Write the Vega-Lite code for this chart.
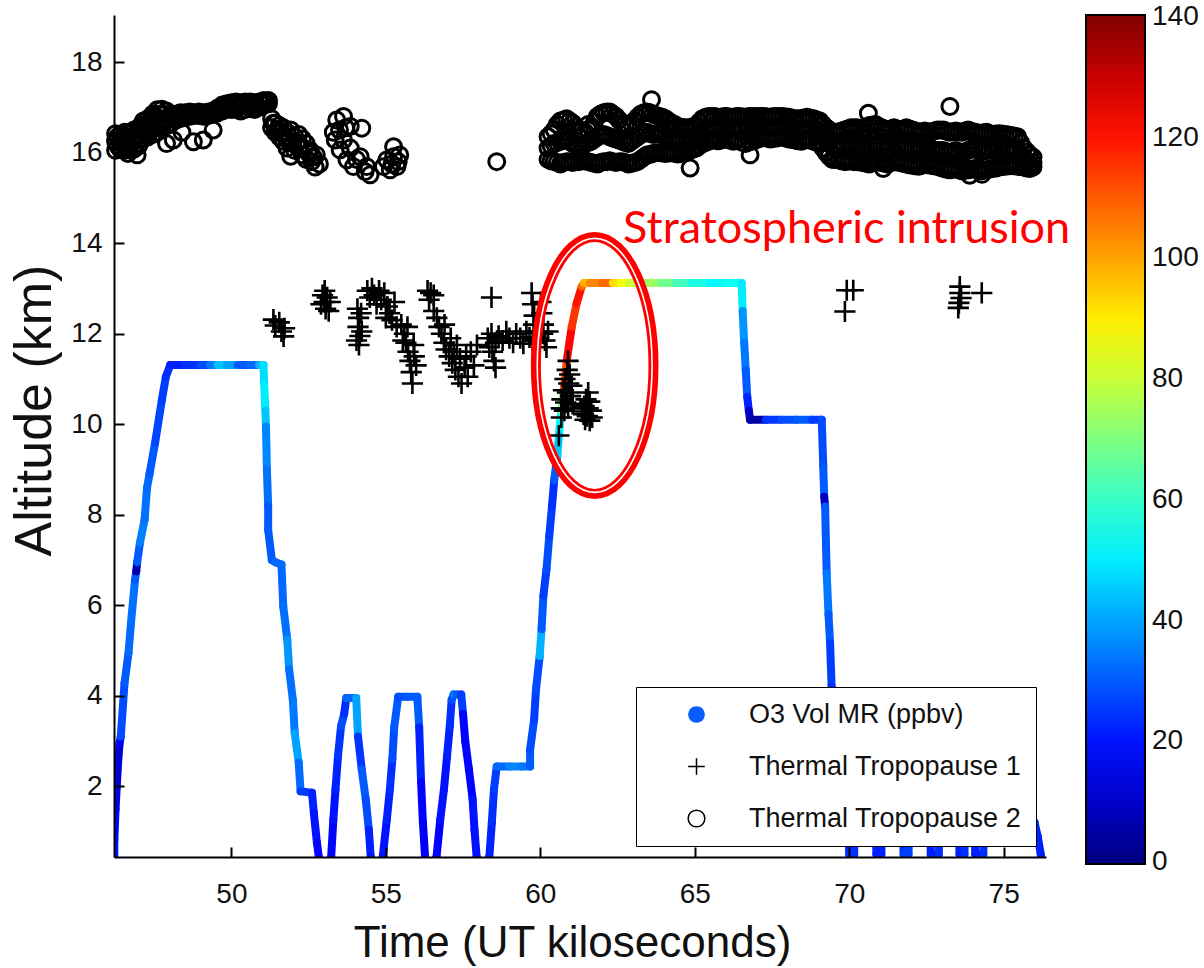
{
"$schema": "https://vega.github.io/schema/vega-lite/v6.json",
"width": 932, "height": 842,
"autosize": {"type": "none"},
"padding": {"left": 114, "top": 15, "right": 158, "bottom": 111},
"background": "white",
"config": {"view": {"stroke": null}, "axis": {"grid": false}},
"datasets": {
"o3": [
{"t":46.21,"a":0.2,"o":20},{"t":46.21,"a":0.82,"o":18},{"t":46.25,"a":1.5,"o":14},{"t":46.29,"a":2.0,"o":12},{"t":46.33,"a":2.5,"o":12},{"t":46.38,"a":2.95,"o":16},{"t":46.42,"a":3.1,"o":28},{"t":46.54,"a":4.28,"o":30},{"t":46.67,"a":4.95,"o":32},{"t":46.75,"a":5.61,"o":33},{"t":46.88,"a":6.56,"o":30},{"t":46.92,"a":6.75,"o":6},{"t":46.95,"a":6.95,"o":30},{"t":47.04,"a":7.38,"o":35},{"t":47.19,"a":7.89,"o":33},{"t":47.27,"a":8.6,"o":32},{"t":47.35,"a":8.9,"o":30},{"t":47.53,"a":9.59,"o":27},{"t":47.75,"a":10.54,"o":26},{"t":47.88,"a":11.05,"o":24},{"t":48.02,"a":11.31,"o":22},{"t":48.5,"a":11.31,"o":24},{"t":49.0,"a":11.31,"o":28},{"t":49.3,"a":11.31,"o":34},{"t":49.55,"a":11.31,"o":44},{"t":49.85,"a":11.31,"o":40},{"t":50.2,"a":11.31,"o":30},{"t":50.6,"a":11.31,"o":32},{"t":50.9,"a":11.31,"o":42},{"t":51.04,"a":11.31,"o":48},{"t":51.06,"a":10.9,"o":50},{"t":51.1,"a":10.3,"o":45},{"t":51.12,"a":9.95,"o":36},{"t":51.15,"a":9.0,"o":33},{"t":51.19,"a":8.2,"o":30},{"t":51.19,"a":7.67,"o":30},{"t":51.31,"a":7.0,"o":30},{"t":51.43,"a":6.95,"o":32},{"t":51.62,"a":6.9,"o":32},{"t":51.68,"a":5.97,"o":33},{"t":51.81,"a":5.24,"o":38},{"t":51.87,"a":4.58,"o":33},{"t":51.99,"a":3.91,"o":34},{"t":52.05,"a":3.18,"o":40},{"t":52.18,"a":2.52,"o":32},{"t":52.24,"a":1.89,"o":26},{"t":52.61,"a":1.86,"o":22},{"t":52.67,"a":1.41,"o":20},{"t":52.77,"a":0.75,"o":18},{"t":52.83,"a":0.44,"o":18},{"t":52.88,"a":0.2,"o":18},
{"t":53.18,"a":0.2,"o":18},{"t":53.23,"a":0.44,"o":18},{"t":53.30,"a":1.26,"o":20},{"t":53.37,"a":1.93,"o":22},{"t":53.45,"a":2.66,"o":25},{"t":53.55,"a":3.33,"o":28},{"t":53.65,"a":3.6,"o":24},{"t":53.72,"a":3.95,"o":32},{"t":54.04,"a":3.95,"o":40},{"t":54.10,"a":3.1,"o":25},{"t":54.22,"a":2.37,"o":30},{"t":54.35,"a":1.71,"o":28},{"t":54.45,"a":1.04,"o":22},{"t":54.51,"a":0.44,"o":20},{"t":54.55,"a":0.2,"o":20},
{"t":54.86,"a":0.2,"o":20},{"t":54.90,"a":0.44,"o":20},{"t":55.03,"a":1.26,"o":22},{"t":55.13,"a":1.93,"o":24},{"t":55.21,"a":2.6,"o":28},{"t":55.27,"a":3.3,"o":30},{"t":55.40,"a":3.98,"o":28},{"t":55.7,"a":3.98,"o":30},{"t":56.02,"a":3.98,"o":30},{"t":56.08,"a":3.3,"o":22},{"t":56.14,"a":2.1,"o":18},{"t":56.20,"a":1.2,"o":16},{"t":56.27,"a":0.44,"o":18},{"t":56.30,"a":0.2,"o":18},
{"t":56.60,"a":0.2,"o":18},{"t":56.64,"a":0.44,"o":18},{"t":56.76,"a":1.26,"o":20},{"t":56.88,"a":1.93,"o":20},{"t":56.98,"a":2.66,"o":22},{"t":57.07,"a":3.33,"o":24},{"t":57.13,"a":3.91,"o":28},{"t":57.19,"a":4.03,"o":34},{"t":57.30,"a":4.03,"o":30},{"t":57.44,"a":4.03,"o":26},{"t":57.50,"a":3.6,"o":18},{"t":57.57,"a":3.0,"o":18},{"t":57.69,"a":2.37,"o":18},{"t":57.81,"a":1.71,"o":20},{"t":57.87,"a":1.04,"o":20},{"t":57.94,"a":0.44,"o":20},{"t":57.97,"a":0.2,"o":20},
{"t":58.31,"a":0.2,"o":22},{"t":58.35,"a":0.44,"o":22},{"t":58.43,"a":1.19,"o":24},{"t":58.50,"a":1.93,"o":26},{"t":58.59,"a":2.44,"o":32},{"t":59.0,"a":2.44,"o":36},{"t":59.4,"a":2.44,"o":34},{"t":59.67,"a":2.44,"o":30},{"t":59.67,"a":2.81,"o":28},{"t":59.80,"a":3.48,"o":26},{"t":59.86,"a":4.14,"o":28},{"t":59.98,"a":4.88,"o":42},{"t":60.04,"a":5.47,"o":30},{"t":60.10,"a":6.21,"o":26},{"t":60.20,"a":6.79,"o":28},{"t":60.29,"a":7.53,"o":26},{"t":60.38,"a":8.20,"o":24},{"t":60.45,"a":8.77,"o":30},{"t":60.55,"a":9.3,"o":45},{"t":60.62,"a":9.9,"o":52},{"t":60.68,"a":10.3,"o":70},{"t":60.75,"a":10.7,"o":112},{"t":60.86,"a":11.42,"o":122},{"t":61.02,"a":12.16,"o":115},{"t":61.18,"a":12.68,"o":120},{"t":61.34,"a":13.04,"o":108},{"t":61.42,"a":13.12,"o":98},{"t":61.6,"a":13.12,"o":104},{"t":62.0,"a":13.12,"o":108},{"t":62.35,"a":13.12,"o":92},{"t":62.6,"a":13.12,"o":86},{"t":62.9,"a":13.12,"o":80},{"t":63.4,"a":13.12,"o":74},{"t":63.9,"a":13.12,"o":68},{"t":64.4,"a":13.12,"o":62},{"t":64.9,"a":13.12,"o":56},{"t":65.5,"a":13.12,"o":52},{"t":66.0,"a":13.12,"o":54},{"t":66.52,"a":13.12,"o":50},{"t":66.55,"a":12.5,"o":38},{"t":66.60,"a":11.8,"o":34},{"t":66.65,"a":11.2,"o":30},{"t":66.70,"a":10.6,"o":22},{"t":66.75,"a":10.3,"o":10},{"t":66.79,"a":10.1,"o":5},{"t":67.3,"a":10.1,"o":25},{"t":67.8,"a":10.1,"o":28},{"t":68.3,"a":10.1,"o":30},{"t":68.8,"a":10.1,"o":26},{"t":69.11,"a":10.1,"o":28},{"t":69.16,"a":9.07,"o":30},{"t":69.19,"a":8.4,"o":8},{"t":69.22,"a":8.18,"o":30},{"t":69.27,"a":6.71,"o":34},{"t":69.33,"a":5.8,"o":30},{"t":69.38,"a":5.17,"o":26},{"t":69.43,"a":4.21,"o":24},{"t":69.52,"a":2.5,"o":22},{"t":69.6,"a":1.2,"o":22},
{"t":69.98,"a":1.2,"o":22},{"t":70.0,"a":0.5,"o":24},{"t":70.16,"a":0.5,"o":24},{"t":70.18,"a":1.2,"o":22},
{"t":70.86,"a":1.2,"o":22},{"t":70.88,"a":0.5,"o":22},{"t":71.04,"a":0.5,"o":22},{"t":71.06,"a":1.2,"o":22},
{"t":71.74,"a":1.2,"o":24},{"t":71.76,"a":0.5,"o":26},{"t":71.92,"a":0.5,"o":26},{"t":71.94,"a":1.2,"o":24},
{"t":72.62,"a":1.2,"o":22},{"t":72.64,"a":0.5,"o":22},{"t":72.90,"a":0.5,"o":24},{"t":72.92,"a":1.2,"o":22},
{"t":73.55,"a":1.2,"o":22},{"t":73.57,"a":0.5,"o":22},{"t":73.73,"a":0.5,"o":24},{"t":73.75,"a":1.2,"o":22},
{"t":74.06,"a":1.2,"o":22},{"t":74.08,"a":0.5,"o":22},{"t":74.34,"a":0.5,"o":24},{"t":74.36,"a":1.2,"o":22},
{"t":75.9,"a":1.25,"o":22},{"t":76.0,"a":1.2,"o":22},{"t":76.1,"a":0.9,"o":22},{"t":76.2,"a":0.5,"o":22},{"t":76.26,"a":0.2,"o":22}
],
"tp1": [
{"t":51.36,"a":12.31},{"t":51.42,"a":12.18},{"t":51.55,"a":12.25},{"t":51.62,"a":12.05},{"t":51.69,"a":11.94},{"t":51.72,"a":12.12},
{"t":52.90,"a":12.65},{"t":52.95,"a":12.85},{"t":53.00,"a":12.70},{"t":53.05,"a":12.55},{"t":53.10,"a":12.80},{"t":53.15,"a":12.50},{"t":53.20,"a":12.70},{"t":53.02,"a":12.95},
{"t":54.08,"a":12.55},{"t":54.12,"a":12.35},{"t":54.10,"a":12.15},{"t":54.16,"a":11.95},{"t":54.13,"a":11.75},{"t":54.22,"a":12.05},{"t":54.20,"a":12.45},{"t":54.05,"a":11.85},
{"t":54.40,"a":12.95},{"t":54.48,"a":12.80},{"t":54.55,"a":13.00},{"t":54.62,"a":12.85},{"t":54.70,"a":12.65},{"t":54.78,"a":12.95},{"t":54.85,"a":12.75},{"t":54.95,"a":12.90},{"t":55.05,"a":12.60},{"t":55.12,"a":12.45},{"t":55.20,"a":12.30},{"t":55.28,"a":12.70},{"t":55.35,"a":12.15},{"t":55.00,"a":12.35},
{"t":55.50,"a":12.20},{"t":55.60,"a":12.00},{"t":55.65,"a":11.80},{"t":55.72,"a":11.60},{"t":55.78,"a":11.40},{"t":55.82,"a":11.15},{"t":55.86,"a":10.90},{"t":55.92,"a":11.50},{"t":55.98,"a":11.30},{"t":55.55,"a":11.85},{"t":55.70,"a":12.15},{"t":55.90,"a":11.75},
{"t":56.35,"a":12.95},{"t":56.45,"a":12.90},{"t":56.40,"a":12.75},{"t":56.55,"a":12.85},
{"t":56.55,"a":12.50},{"t":56.65,"a":12.35},{"t":56.72,"a":12.15},{"t":56.80,"a":12.00},{"t":56.88,"a":11.80},{"t":56.95,"a":11.65},{"t":57.05,"a":11.50},{"t":57.15,"a":11.35},{"t":57.25,"a":11.20},{"t":57.35,"a":11.05},{"t":57.45,"a":10.90},{"t":56.90,"a":12.20},{"t":57.10,"a":11.90},{"t":57.20,"a":11.60},{"t":57.30,"a":11.75},{"t":57.40,"a":11.45},{"t":57.55,"a":11.25},{"t":57.65,"a":11.05},{"t":57.75,"a":11.60},{"t":57.85,"a":11.30},{"t":57.95,"a":11.75},{"t":57.60,"a":11.50},
{"t":58.42,"a":12.80},{"t":58.30,"a":11.90},{"t":58.42,"a":12.00},{"t":58.55,"a":11.80},{"t":58.65,"a":11.95},{"t":58.78,"a":11.85},{"t":58.90,"a":12.05},{"t":59.00,"a":11.90},{"t":59.12,"a":11.80},{"t":59.22,"a":12.00},{"t":59.35,"a":11.90},{"t":59.45,"a":11.78},{"t":59.55,"a":12.05},{"t":59.65,"a":11.92},{"t":59.75,"a":11.85},{"t":59.85,"a":12.02},{"t":59.95,"a":11.90},{"t":58.45,"a":11.60},{"t":58.50,"a":11.40},{"t":58.55,"a":11.25},{"t":58.35,"a":11.70},{"t":59.72,"a":12.90},{"t":59.75,"a":12.65},{"t":59.80,"a":12.40},{"t":59.78,"a":12.20},
{"t":60.02,"a":12.70},{"t":60.05,"a":12.45},{"t":60.10,"a":12.20},{"t":60.08,"a":12.00},{"t":60.15,"a":11.85},{"t":60.20,"a":11.70},{"t":60.25,"a":12.05},
{"t":60.90,"a":11.40},{"t":60.87,"a":11.20},{"t":60.95,"a":11.10},{"t":60.80,"a":11.00},{"t":60.92,"a":10.90},{"t":61.02,"a":10.85},{"t":60.75,"a":10.75},{"t":60.88,"a":10.70},{"t":60.98,"a":10.62},{"t":60.70,"a":10.55},{"t":60.82,"a":10.48},{"t":61.05,"a":10.45},{"t":60.68,"a":10.35},{"t":60.78,"a":10.30},{"t":60.90,"a":10.35},{"t":60.68,"a":10.15},{"t":60.60,"a":9.75},
{"t":61.55,"a":10.70},{"t":61.48,"a":10.55},{"t":61.60,"a":10.50},{"t":61.42,"a":10.40},{"t":61.55,"a":10.35},{"t":61.65,"a":10.30},{"t":61.40,"a":10.22},{"t":61.52,"a":10.18},{"t":61.68,"a":10.15},{"t":61.45,"a":10.10},{"t":61.60,"a":10.08},{"t":61.35,"a":10.28},
{"t":69.92,"a":12.96},{"t":70.13,"a":12.96},{"t":69.86,"a":12.49},{"t":73.58,"a":13.04},{"t":73.58,"a":12.90},{"t":73.62,"a":12.79},{"t":73.55,"a":12.68},{"t":73.53,"a":12.57},{"t":74.29,"a":12.90}
],
"tp2": [
{"t":46.25,"a":16.05},{"t":46.25,"a":16.25},{"t":46.25,"a":16.42},{"t":46.32,"a":16.15},{"t":46.32,"a":16.35},{"t":46.40,"a":16.08},{"t":46.40,"a":16.40},{"t":46.47,"a":16.20},{"t":46.47,"a":16.30},{"t":46.55,"a":16.05},{"t":46.55,"a":16.25},{"t":46.55,"a":16.45},{"t":46.62,"a":16.15},{"t":46.62,"a":16.35},{"t":46.70,"a":16.10},{"t":46.70,"a":16.42},{"t":46.77,"a":16.25},{"t":46.77,"a":16.45},{"t":46.85,"a":16.08},{"t":46.85,"a":16.30},{"t":46.85,"a":16.50},{"t":46.92,"a":16.20},{"t":46.92,"a":16.40},{"t":47.00,"a":16.15},{"t":47.00,"a":16.55},{"t":47.07,"a":16.30},{"t":47.07,"a":16.60},{"t":47.15,"a":16.30},{"t":47.15,"a":16.50},{"t":47.15,"a":16.70},{"t":47.22,"a":16.40},{"t":47.22,"a":16.60},{"t":47.30,"a":16.35},{"t":47.30,"a":16.75},{"t":47.37,"a":16.50},{"t":47.37,"a":16.70},{"t":47.45,"a":16.40},{"t":47.45,"a":16.65},{"t":47.45,"a":16.85},{"t":47.52,"a":16.55},{"t":47.52,"a":16.80},{"t":47.60,"a":16.45},{"t":47.60,"a":16.95},{"t":47.67,"a":16.65},{"t":47.67,"a":16.85},{"t":47.75,"a":16.55},{"t":47.75,"a":16.75},{"t":47.75,"a":16.96},{"t":47.82,"a":16.70},{"t":47.82,"a":16.85},{"t":47.90,"a":16.60},{"t":47.90,"a":16.92},{"t":47.97,"a":16.75},{"t":48.05,"a":16.65},{"t":48.05,"a":16.80},{"t":48.12,"a":16.80},{"t":48.20,"a":16.72},{"t":48.20,"a":16.85},{"t":48.27,"a":16.80},{"t":48.35,"a":16.75},{"t":48.35,"a":16.88},{"t":48.42,"a":16.82},{"t":48.50,"a":16.78},{"t":48.50,"a":16.88},{"t":48.57,"a":16.84},{"t":48.65,"a":16.80},{"t":48.65,"a":16.90},{"t":48.72,"a":16.85},{"t":48.80,"a":16.82},{"t":48.80,"a":16.88},{"t":48.87,"a":16.86},{"t":48.95,"a":16.82},{"t":48.95,"a":16.90},{"t":49.02,"a":16.85},{"t":49.10,"a":16.80},{"t":49.10,"a":16.88},{"t":49.17,"a":16.86},{"t":49.25,"a":16.82},{"t":49.25,"a":16.90},{"t":49.32,"a":16.88},{"t":49.40,"a":16.85},{"t":49.40,"a":16.92},{"t":49.47,"a":16.90},{"t":49.55,"a":16.88},{"t":49.55,"a":16.98},{"t":49.62,"a":16.95},{"t":49.70,"a":16.92},{"t":49.70,"a":17.05},{"t":49.77,"a":17.00},{"t":49.85,"a":16.95},{"t":49.85,"a":17.08},{"t":49.92,"a":17.02},{"t":50.00,"a":16.95},{"t":50.00,"a":17.10},{"t":50.07,"a":17.03},{"t":50.15,"a":16.95},{"t":50.15,"a":17.12},{"t":50.22,"a":17.02},{"t":50.30,"a":16.92},{"t":50.30,"a":17.10},{"t":50.37,"a":17.04},{"t":50.45,"a":16.95},{"t":50.45,"a":17.12},{"t":50.52,"a":17.05},{"t":50.60,"a":16.98},{"t":50.60,"a":17.12},{"t":50.67,"a":17.04},{"t":50.75,"a":16.95},{"t":50.75,"a":17.10},{"t":50.82,"a":17.05},{"t":50.90,"a":17.00},{"t":50.90,"a":17.12},{"t":50.97,"a":17.08},{"t":51.05,"a":17.05},{"t":51.05,"a":17.15},{"t":51.12,"a":17.10},{"t":51.20,"a":17.08},{"t":51.20,"a":17.15},
{"t":46.65,"a":15.98},{"t":46.95,"a":15.95},{"t":47.90,"a":16.20},{"t":48.12,"a":16.28},{"t":48.77,"a":16.24},{"t":49.09,"a":16.28},{"t":49.41,"a":16.50},{"t":48.40,"a":16.45},
{"t":51.30,"a":16.75},{"t":51.30,"a":16.55},{"t":51.36,"a":16.65},{"t":51.42,"a":16.65},{"t":51.42,"a":16.45},{"t":51.48,"a":16.50},{"t":51.55,"a":16.60},{"t":51.55,"a":16.35},{"t":51.62,"a":16.45},{"t":51.68,"a":16.55},{"t":51.68,"a":16.25},{"t":51.74,"a":16.35},{"t":51.80,"a":16.45},{"t":51.80,"a":16.10},{"t":51.86,"a":16.25},{"t":51.92,"a":16.50},{"t":51.92,"a":15.92},{"t":51.98,"a":16.20},{"t":52.05,"a":16.35},{"t":52.05,"a":16.05},{"t":52.12,"a":16.22},{"t":52.18,"a":16.40},{"t":52.18,"a":16.10},{"t":52.24,"a":16.15},{"t":52.30,"a":16.30},{"t":52.30,"a":15.95},{"t":52.36,"a":16.08},{"t":52.42,"a":16.20},{"t":52.42,"a":15.85},{"t":52.48,"a":16.00},{"t":52.55,"a":16.05},{"t":52.60,"a":15.80},{"t":52.65,"a":15.90},{"t":52.71,"a":15.68},{"t":52.75,"a":15.95},{"t":52.85,"a":15.75},
{"t":53.30,"a":16.45},{"t":53.36,"a":16.28},{"t":53.41,"a":16.72},{"t":53.52,"a":16.06},{"t":53.63,"a":16.80},{"t":53.63,"a":16.28},{"t":53.74,"a":15.84},{"t":53.85,"a":16.58},{"t":53.85,"a":16.10},{"t":53.95,"a":15.69},{"t":54.17,"a":15.91},{"t":54.22,"a":16.54},{"t":54.33,"a":15.58},{"t":54.38,"a":15.69},{"t":54.49,"a":15.51},{"t":53.50,"a":16.50},{"t":53.70,"a":16.55},{"t":54.05,"a":15.85},
{"t":54.92,"a":15.69},{"t":55.03,"a":15.84},{"t":55.14,"a":15.62},{"t":55.25,"a":16.13},{"t":55.25,"a":15.91},{"t":55.36,"a":15.69},{"t":55.45,"a":15.95},{"t":55.20,"a":15.75},{"t":55.40,"a":15.80},
{"t":58.59,"a":15.80},
{"t":60.25,"a":15.85},{"t":60.25,"a":16.10},{"t":60.25,"a":16.35},{"t":60.35,"a":15.82},{"t":60.35,"a":16.15},{"t":60.35,"a":16.42},
{"t":60.45,"a":15.80},{"t":60.45,"a":16.20},{"t":60.45,"a":16.50},{"t":60.55,"a":15.78},{"t":60.55,"a":16.22},{"t":60.55,"a":16.62},
{"t":60.65,"a":15.75},{"t":60.65,"a":16.25},{"t":60.65,"a":16.70},{"t":60.75,"a":15.78},{"t":60.75,"a":16.28},{"t":60.75,"a":16.72},
{"t":60.85,"a":15.80},{"t":60.85,"a":16.30},{"t":60.85,"a":16.75},{"t":60.95,"a":15.80},{"t":60.95,"a":16.25},{"t":60.95,"a":16.70},
{"t":61.05,"a":15.78},{"t":61.05,"a":16.20},{"t":61.05,"a":16.65},{"t":61.15,"a":15.80},{"t":61.15,"a":16.18},{"t":61.15,"a":16.58},
{"t":61.25,"a":15.80},{"t":61.25,"a":16.15},{"t":61.25,"a":16.50},{"t":61.35,"a":15.82},{"t":61.35,"a":16.18},{"t":61.35,"a":16.48},
{"t":61.45,"a":15.82},{"t":61.45,"a":16.20},{"t":61.45,"a":16.45},{"t":61.55,"a":15.80},{"t":61.55,"a":16.22},{"t":61.55,"a":16.50},
{"t":61.65,"a":15.78},{"t":61.65,"a":16.25},{"t":61.65,"a":16.55},{"t":61.75,"a":15.76},{"t":61.75,"a":16.30},{"t":61.75,"a":16.68},
{"t":61.85,"a":15.75},{"t":61.85,"a":16.35},{"t":61.85,"a":16.80},{"t":61.95,"a":15.78},{"t":61.95,"a":16.38},{"t":61.95,"a":16.85},
{"t":62.05,"a":15.80},{"t":62.05,"a":16.40},{"t":62.05,"a":16.88},{"t":62.15,"a":15.80},{"t":62.15,"a":16.38},{"t":62.15,"a":16.90},
{"t":62.25,"a":15.82},{"t":62.25,"a":16.35},{"t":62.25,"a":16.90},{"t":62.35,"a":15.80},{"t":62.35,"a":16.32},{"t":62.35,"a":16.85},
{"t":62.45,"a":15.78},{"t":62.45,"a":16.30},{"t":62.45,"a":16.80},{"t":62.55,"a":15.80},{"t":62.55,"a":16.28},{"t":62.55,"a":16.72},
{"t":62.65,"a":15.80},{"t":62.65,"a":16.25},{"t":62.65,"a":16.65},{"t":62.75,"a":15.78},{"t":62.75,"a":16.22},{"t":62.75,"a":16.62},
{"t":62.85,"a":15.75},{"t":62.85,"a":16.20},{"t":62.85,"a":16.60},{"t":62.95,"a":15.76},{"t":62.95,"a":16.25},{"t":62.95,"a":16.65},
{"t":63.05,"a":15.78},{"t":63.05,"a":16.30},{"t":63.05,"a":16.70},{"t":63.15,"a":15.80},{"t":63.15,"a":16.35},{"t":63.15,"a":16.78},
{"t":63.25,"a":15.85},{"t":63.25,"a":16.40},{"t":63.25,"a":16.85},{"t":63.35,"a":15.90},{"t":63.35,"a":16.42},{"t":63.35,"a":16.88},
{"t":63.45,"a":15.95},{"t":63.45,"a":16.45},{"t":63.45,"a":16.90},{"t":63.55,"a":15.96},{"t":63.55,"a":16.42},{"t":63.55,"a":16.88},
{"t":63.65,"a":15.98},{"t":63.65,"a":16.40},{"t":63.65,"a":16.85},{"t":63.75,"a":16.00},{"t":63.75,"a":16.42},{"t":63.75,"a":16.82},
{"t":63.85,"a":16.00},{"t":63.85,"a":16.45},{"t":63.85,"a":16.80},{"t":63.95,"a":15.99},{"t":63.95,"a":16.40},{"t":63.95,"a":16.78},
{"t":64.05,"a":15.98},{"t":64.05,"a":16.35},{"t":64.05,"a":16.75},{"t":64.15,"a":15.99},{"t":64.15,"a":16.32},{"t":64.15,"a":16.70},
{"t":64.25,"a":16.00},{"t":64.25,"a":16.30},{"t":64.25,"a":16.65},{"t":64.35,"a":15.98},{"t":64.35,"a":16.28},{"t":64.35,"a":16.62},
{"t":64.45,"a":15.97},{"t":64.45,"a":16.25},{"t":64.45,"a":16.58},{"t":64.55,"a":15.98},{"t":64.55,"a":16.26},{"t":64.55,"a":16.56},
{"t":64.65,"a":16.00},{"t":64.65,"a":16.28},{"t":64.65,"a":16.55},{"t":64.75,"a":16.02},{"t":64.75,"a":16.29},{"t":64.75,"a":16.55},
{"t":64.85,"a":16.05},{"t":64.85,"a":16.30},{"t":64.85,"a":16.55},{"t":64.95,"a":16.08},{"t":64.95,"a":16.32},{"t":64.95,"a":16.58},
{"t":65.05,"a":16.10},{"t":65.05,"a":16.35},{"t":65.05,"a":16.60},{"t":65.15,"a":16.15},{"t":65.15,"a":16.40},{"t":65.15,"a":16.68},
{"t":65.25,"a":16.20},{"t":65.25,"a":16.45},{"t":65.25,"a":16.75},{"t":65.35,"a":16.22},{"t":65.35,"a":16.48},{"t":65.35,"a":16.78},
{"t":65.45,"a":16.25},{"t":65.45,"a":16.50},{"t":65.45,"a":16.80},{"t":65.55,"a":16.28},{"t":65.55,"a":16.52},{"t":65.55,"a":16.80},
{"t":65.65,"a":16.30},{"t":65.65,"a":16.55},{"t":65.65,"a":16.80},{"t":65.75,"a":16.26},{"t":65.75,"a":16.53},{"t":65.75,"a":16.78},
{"t":65.85,"a":16.28},{"t":65.85,"a":16.55},{"t":65.85,"a":16.78},{"t":65.95,"a":16.30},{"t":65.95,"a":16.54},{"t":65.95,"a":16.80},
{"t":66.05,"a":16.30},{"t":66.05,"a":16.55},{"t":66.05,"a":16.80},{"t":66.15,"a":16.27},{"t":66.15,"a":16.52},{"t":66.15,"a":16.78},
{"t":66.25,"a":16.25},{"t":66.25,"a":16.52},{"t":66.25,"a":16.78},{"t":66.35,"a":16.28},{"t":66.35,"a":16.54},{"t":66.35,"a":16.80},
{"t":66.45,"a":16.30},{"t":66.45,"a":16.55},{"t":66.45,"a":16.80},{"t":66.55,"a":16.22},{"t":66.55,"a":16.52},{"t":66.55,"a":16.79},
{"t":66.65,"a":16.20},{"t":66.65,"a":16.50},{"t":66.65,"a":16.78},{"t":66.75,"a":16.24},{"t":66.75,"a":16.53},{"t":66.75,"a":16.80},
{"t":66.85,"a":16.25},{"t":66.85,"a":16.55},{"t":66.85,"a":16.80},{"t":66.95,"a":16.28},{"t":66.95,"a":16.55},{"t":66.95,"a":16.80},
{"t":67.05,"a":16.30},{"t":67.05,"a":16.55},{"t":67.05,"a":16.80},{"t":67.15,"a":16.33},{"t":67.15,"a":16.57},{"t":67.15,"a":16.80},
{"t":67.25,"a":16.35},{"t":67.25,"a":16.58},{"t":67.25,"a":16.80},{"t":67.35,"a":16.32},{"t":67.35,"a":16.56},{"t":67.35,"a":16.79},
{"t":67.45,"a":16.30},{"t":67.45,"a":16.55},{"t":67.45,"a":16.78},{"t":67.55,"a":16.31},{"t":67.55,"a":16.55},{"t":67.55,"a":16.80},
{"t":67.65,"a":16.32},{"t":67.65,"a":16.55},{"t":67.65,"a":16.80},{"t":67.75,"a":16.34},{"t":67.75,"a":16.57},{"t":67.75,"a":16.80},
{"t":67.85,"a":16.35},{"t":67.85,"a":16.58},{"t":67.85,"a":16.80},{"t":67.95,"a":16.32},{"t":67.95,"a":16.56},{"t":67.95,"a":16.79},
{"t":68.05,"a":16.30},{"t":68.05,"a":16.55},{"t":68.05,"a":16.78},{"t":68.15,"a":16.29},{"t":68.15,"a":16.53},{"t":68.15,"a":16.76},
{"t":68.25,"a":16.28},{"t":68.25,"a":16.52},{"t":68.25,"a":16.75},{"t":68.35,"a":16.26},{"t":68.35,"a":16.51},{"t":68.35,"a":16.75},
{"t":68.45,"a":16.25},{"t":68.45,"a":16.50},{"t":68.45,"a":16.75},{"t":68.55,"a":16.28},{"t":68.55,"a":16.51},{"t":68.55,"a":16.77},
{"t":68.65,"a":16.30},{"t":68.65,"a":16.52},{"t":68.65,"a":16.78},{"t":68.75,"a":16.27},{"t":68.75,"a":16.51},{"t":68.75,"a":16.76},
{"t":68.85,"a":16.25},{"t":68.85,"a":16.50},{"t":68.85,"a":16.75},{"t":68.95,"a":16.22},{"t":68.95,"a":16.47},{"t":68.95,"a":16.72},
{"t":69.05,"a":16.20},{"t":69.05,"a":16.45},{"t":69.05,"a":16.70},{"t":69.15,"a":16.10},{"t":69.15,"a":16.38},{"t":69.15,"a":16.62},
{"t":69.25,"a":16.00},{"t":69.25,"a":16.30},{"t":69.25,"a":16.55},{"t":69.35,"a":15.92},{"t":69.35,"a":16.22},{"t":69.35,"a":16.50},
{"t":69.45,"a":15.85},{"t":69.45,"a":16.15},{"t":69.45,"a":16.45},{"t":69.55,"a":15.85},{"t":69.55,"a":16.15},{"t":69.55,"a":16.45},
{"t":69.65,"a":15.85},{"t":69.65,"a":16.15},{"t":69.65,"a":16.45},{"t":69.75,"a":15.82},{"t":69.75,"a":16.12},{"t":69.75,"a":16.48},
{"t":69.85,"a":15.80},{"t":69.85,"a":16.15},{"t":69.85,"a":16.50},{"t":69.95,"a":15.81},{"t":69.95,"a":16.18},{"t":69.95,"a":16.52},
{"t":70.05,"a":15.82},{"t":70.05,"a":16.20},{"t":70.05,"a":16.55},{"t":70.15,"a":15.80},{"t":70.15,"a":16.17},{"t":70.15,"a":16.55},
{"t":70.25,"a":15.80},{"t":70.25,"a":16.15},{"t":70.25,"a":16.55},{"t":70.35,"a":15.79},{"t":70.35,"a":16.12},{"t":70.35,"a":16.52},
{"t":70.45,"a":15.78},{"t":70.45,"a":16.10},{"t":70.45,"a":16.50},{"t":70.55,"a":15.76},{"t":70.55,"a":16.12},{"t":70.55,"a":16.55},
{"t":70.65,"a":15.75},{"t":70.65,"a":16.15},{"t":70.65,"a":16.60},{"t":70.75,"a":15.78},{"t":70.75,"a":16.18},{"t":70.75,"a":16.61},
{"t":70.85,"a":15.80},{"t":70.85,"a":16.20},{"t":70.85,"a":16.62},{"t":70.95,"a":15.79},{"t":70.95,"a":16.17},{"t":70.95,"a":16.58},
{"t":71.05,"a":15.78},{"t":71.05,"a":16.15},{"t":71.05,"a":16.55},{"t":71.15,"a":15.76},{"t":71.15,"a":16.12},{"t":71.15,"a":16.52},
{"t":71.25,"a":15.75},{"t":71.25,"a":16.10},{"t":71.25,"a":16.50},{"t":71.35,"a":15.78},{"t":71.35,"a":16.12},{"t":71.35,"a":16.52},
{"t":71.45,"a":15.80},{"t":71.45,"a":16.15},{"t":71.45,"a":16.55},{"t":71.55,"a":15.79},{"t":71.55,"a":16.12},{"t":71.55,"a":16.52},
{"t":71.65,"a":15.78},{"t":71.65,"a":16.10},{"t":71.65,"a":16.50},{"t":71.75,"a":15.76},{"t":71.75,"a":16.12},{"t":71.75,"a":16.52},
{"t":71.85,"a":15.75},{"t":71.85,"a":16.15},{"t":71.85,"a":16.55},{"t":71.95,"a":15.73},{"t":71.95,"a":16.12},{"t":71.95,"a":16.52},
{"t":72.05,"a":15.72},{"t":72.05,"a":16.10},{"t":72.05,"a":16.50},{"t":72.15,"a":15.71},{"t":72.15,"a":16.08},{"t":72.15,"a":16.48},
{"t":72.25,"a":15.70},{"t":72.25,"a":16.05},{"t":72.25,"a":16.45},{"t":72.35,"a":15.72},{"t":72.35,"a":16.08},{"t":72.35,"a":16.46},
{"t":72.45,"a":15.75},{"t":72.45,"a":16.10},{"t":72.45,"a":16.48},{"t":72.55,"a":15.73},{"t":72.55,"a":16.09},{"t":72.55,"a":16.46},
{"t":72.65,"a":15.72},{"t":72.65,"a":16.08},{"t":72.65,"a":16.45},{"t":72.75,"a":15.71},{"t":72.75,"a":16.06},{"t":72.75,"a":16.48},
{"t":72.85,"a":15.70},{"t":72.85,"a":16.05},{"t":72.85,"a":16.50},{"t":72.95,"a":15.67},{"t":72.95,"a":16.05},{"t":72.95,"a":16.50},
{"t":73.05,"a":15.65},{"t":73.05,"a":16.05},{"t":73.05,"a":16.50},{"t":73.15,"a":15.63},{"t":73.15,"a":16.02},{"t":73.15,"a":16.47},
{"t":73.25,"a":15.62},{"t":73.25,"a":16.00},{"t":73.25,"a":16.45},{"t":73.35,"a":15.63},{"t":73.35,"a":16.02},{"t":73.35,"a":16.46},
{"t":73.45,"a":15.65},{"t":73.45,"a":16.05},{"t":73.45,"a":16.48},{"t":73.55,"a":15.62},{"t":73.55,"a":16.02},{"t":73.55,"a":16.46},
{"t":73.65,"a":15.60},{"t":73.65,"a":16.00},{"t":73.65,"a":16.45},{"t":73.75,"a":15.61},{"t":73.75,"a":16.02},{"t":73.75,"a":16.48},
{"t":73.85,"a":15.62},{"t":73.85,"a":16.05},{"t":73.85,"a":16.50},{"t":73.95,"a":15.63},{"t":73.95,"a":16.08},{"t":73.95,"a":16.47},
{"t":74.05,"a":15.65},{"t":74.05,"a":16.10},{"t":74.05,"a":16.45},{"t":74.15,"a":15.62},{"t":74.15,"a":16.06},{"t":74.15,"a":16.44},
{"t":74.25,"a":15.60},{"t":74.25,"a":16.02},{"t":74.25,"a":16.42},{"t":74.35,"a":15.61},{"t":74.35,"a":16.03},{"t":74.35,"a":16.44},
{"t":74.45,"a":15.62},{"t":74.45,"a":16.05},{"t":74.45,"a":16.45},{"t":74.55,"a":15.64},{"t":74.55,"a":16.05},{"t":74.55,"a":16.42},
{"t":74.65,"a":15.65},{"t":74.65,"a":16.05},{"t":74.65,"a":16.40},{"t":74.75,"a":15.66},{"t":74.75,"a":16.06},{"t":74.75,"a":16.41},
{"t":74.85,"a":15.68},{"t":74.85,"a":16.08},{"t":74.85,"a":16.42},{"t":74.95,"a":15.69},{"t":74.95,"a":16.06},{"t":74.95,"a":16.41},
{"t":75.05,"a":15.70},{"t":75.05,"a":16.05},{"t":75.05,"a":16.40},{"t":75.15,"a":15.71},{"t":75.15,"a":16.08},{"t":75.15,"a":16.39},
{"t":75.25,"a":15.72},{"t":75.25,"a":16.10},{"t":75.25,"a":16.38},{"t":75.35,"a":15.71},{"t":75.35,"a":16.07},{"t":75.35,"a":16.36},
{"t":75.45,"a":15.70},{"t":75.45,"a":16.05},{"t":75.45,"a":16.35},{"t":75.55,"a":15.69},{"t":75.55,"a":15.95},{"t":75.55,"a":16.22},
{"t":75.65,"a":15.68},{"t":75.65,"a":15.85},{"t":75.65,"a":16.10},{"t":75.75,"a":15.66},{"t":75.75,"a":15.80},{"t":75.75,"a":16.02},
{"t":75.85,"a":15.65},{"t":75.85,"a":15.75},{"t":75.85,"a":15.95},{"t":75.95,"a":15.68},{"t":75.95,"a":15.78},{"t":75.95,"a":15.90},
{"t":63.60,"a":17.17},{"t":70.62,"a":16.87},{"t":73.26,"a":17.02},{"t":64.85,"a":15.66},{"t":66.79,"a":15.95},{"t":71.10,"a":15.65},{"t":73.90,"a":15.50},{"t":74.30,"a":15.52},{"t":61.55,"a":16.62}
],
"note": [{"t":61.76,"a":11.30,"tt":62.68,"ta":14.0,"label":"Stratospheric intrusion"}]
},
"encoding": {
"x": {"field": "t", "type": "quantitative", "scale": {"domain": [46.2, 76.37], "nice": false, "zero": false},
  "axis": {"title": "Time (UT kiloseconds)", "values": [50,55,60,65,70,75], "format": "d", "grid": false, "domainColor": "#000", "domainWidth": 2, "tickColor": "#000", "tickWidth": 2, "tickSize": -10, "labelPadding": 33, "labelFontSize": 28, "labelFont": "Liberation Sans", "labelColor": "#111", "labelBaseline": "top", "titleFont": "Liberation Sans", "titleFontSize": 44, "titleFontWeight": "normal", "titleColor": "#111", "titleX": 458, "titleY": 99, "titleBaseline": "alphabetic", "titleAlign": "center", "zindex": 1}},
"y": {"field": "a", "type": "quantitative", "scale": {"domain": [0.44, 19.04], "nice": false, "zero": false},
  "axis": {"title": "Altitude (km)", "values": [2,4,6,8,10,12,14,16,18], "grid": false, "domainColor": "#000", "domainWidth": 2, "tickColor": "#000", "tickWidth": 2, "tickSize": -10, "labelPadding": 22, "labelFontSize": 28, "labelFont": "Liberation Sans", "labelColor": "#111", "titleFont": "Liberation Sans", "titleFontSize": 52, "titleFontWeight": "normal", "titleColor": "#111", "titleX": -64, "titleY": 395, "titleAngle": -90, "titleBaseline": "alphabetic", "titleAlign": "center", "zindex": 1}}
},
"layer": [
{"data": {"name": "o3"},
 "transform": [{"window": [{"op": "lead", "field": "t", "as": "t2"}, {"op": "lead", "field": "a", "as": "a2"}]}, {"filter": "datum.t2 != null"}],
 "mark": {"type": "rule", "strokeWidth": 8, "strokeCap": "round", "clip": true},
 "encoding": {"x2": {"field": "t2"}, "y2": {"field": "a2"},
   "color": {"field": "o", "type": "quantitative",
     "scale": {"domain": [-0.3,17.5,35,52.5,70,87.5,105,122.5,140.3], "range": ["#00007F","#0000FF","#007FFF","#00FFFF","#7FFF7F","#FFFF00","#FF7F00","#FF0000","#7F0000"], "interpolate": "rgb"},
     "legend": {"type": "gradient", "orient": "none", "legendX": 972, "legendY": 0, "direction": "vertical", "title": null, "gradientLength": 849, "gradientThickness": 59, "gradientStrokeColor": "#000", "gradientStrokeWidth": 2, "values": [0,20,40,60,80,100,120,140], "labelFontSize": 28, "labelFont": "Liberation Sans", "labelColor": "#111", "labelOffset": 7, "labelOverlap": false}}}},
{"data": {"name": "tp1"},
 "mark": {"type": "point", "filled": true, "strokeWidth": 2.6, "size": 450, "opacity": 1},
 "encoding": {
   "shape": {"datum": "Thermal Tropopause 1", "type": "nominal",
     "scale": {"domain": ["O3 Vol MR (ppbv)", "Thermal Tropopause 1", "Thermal Tropopause 2"], "range": ["circle", "M-1,0H1M0,-1V1", "circle"]},
     "legend": {"orient": "none", "legendX": 522, "legendY": 672, "title": null, "fillColor": "#fff", "strokeColor": "#000", "padding": 14, "symbolOffset": 33, "labelOffset": 39, "rowPadding": 24, "labelFontSize": 27, "labelFont": "Liberation Sans", "labelColor": "#111", "labelLimit": 0, "symbolSize": 280, "symbolStrokeWidth": 1.5}},
   "fill": {"datum": "Thermal Tropopause 1", "type": "nominal",
     "scale": {"domain": ["O3 Vol MR (ppbv)", "Thermal Tropopause 1", "Thermal Tropopause 2"], "range": ["#0a5cff", "transparent", "transparent"]},
     "legend": {"orient": "none", "legendX": 522, "legendY": 672, "title": null, "fillColor": "#fff", "strokeColor": "#000", "padding": 14, "symbolOffset": 33, "labelOffset": 39, "rowPadding": 24, "labelFontSize": 27, "labelFont": "Liberation Sans", "labelColor": "#111", "labelLimit": 0, "symbolSize": 280, "symbolStrokeWidth": 1.5}},
   "stroke": {"datum": "Thermal Tropopause 1", "type": "nominal",
     "scale": {"domain": ["O3 Vol MR (ppbv)", "Thermal Tropopause 1", "Thermal Tropopause 2"], "range": ["transparent", "#000000", "#000000"]},
     "legend": {"orient": "none", "legendX": 522, "legendY": 672, "title": null, "fillColor": "#fff", "strokeColor": "#000", "padding": 14, "symbolOffset": 33, "labelOffset": 39, "rowPadding": 24, "labelFontSize": 27, "labelFont": "Liberation Sans", "labelColor": "#111", "labelLimit": 0, "symbolSize": 280, "symbolStrokeWidth": 1.5}}}},
{"data": {"name": "tp2"},
 "mark": {"type": "point", "filled": true, "strokeWidth": 3, "size": 254, "opacity": 1},
 "encoding": {
   "shape": {"datum": "Thermal Tropopause 2", "type": "nominal"},
   "fill": {"datum": "Thermal Tropopause 2", "type": "nominal"},
   "stroke": {"datum": "Thermal Tropopause 2", "type": "nominal"}}},
{"data": {"name": "note"},
 "mark": {"type": "point", "filled": false, "stroke": "#FF0000", "strokeWidth": 10, "opacity": 1, "size": 66049, "shape": "M0,-1C0.2528,-1 0.4577,-0.5523 0.4577,0C0.4577,0.5523 0.2528,1 0,1C-0.2528,1 -0.4577,0.5523 -0.4577,0C-0.4577,-0.5523 -0.2528,-1 0,-1Z"},
 "encoding": {}},
{"data": {"name": "note"},
 "mark": {"type": "point", "filled": false, "stroke": "#FFFFFF", "strokeWidth": 1.6, "opacity": 1, "size": 64516, "shape": "M0,-1C0.2497,-1 0.4521,-0.5523 0.4521,0C0.4521,0.5523 0.2497,1 0,1C-0.2497,1 -0.4521,0.5523 -0.4521,0C-0.4521,-0.5523 -0.2497,-1 0,-1Z"},
 "encoding": {}},
{"data": {"name": "note"},
 "mark": {"type": "text", "font": "Lato", "fontSize": 45, "color": "#FF0000", "align": "left", "baseline": "alphabetic"},
 "encoding": {"x": {"field": "tt", "type": "quantitative"}, "y": {"field": "ta", "type": "quantitative"}, "text": {"field": "label"}}}
]
}
